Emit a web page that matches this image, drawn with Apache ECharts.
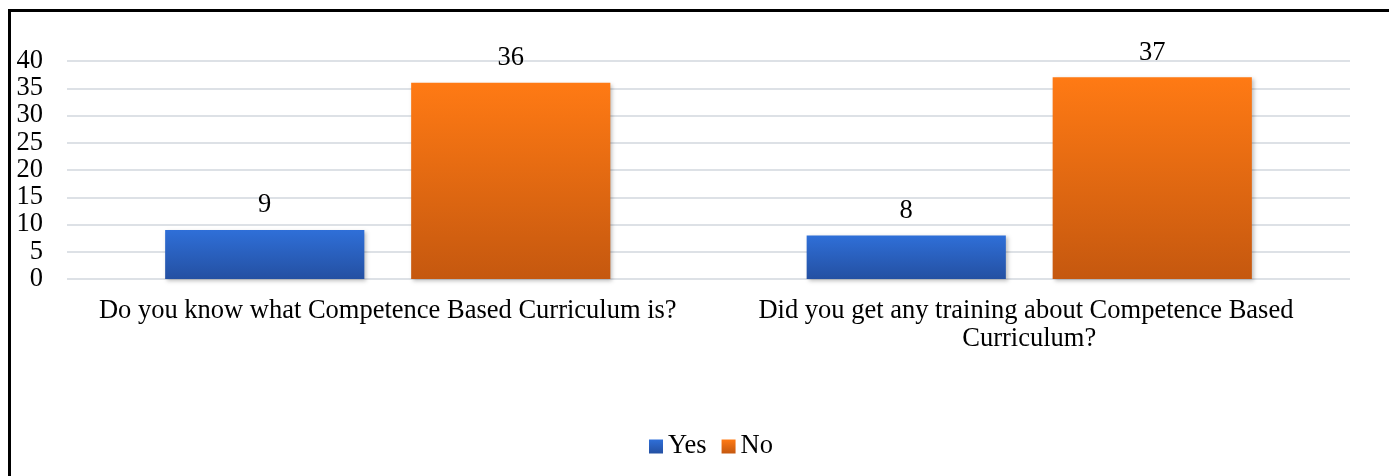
<!DOCTYPE html>
<html>
<head>
<meta charset="utf-8">
<script src="https://cdn.jsdelivr.net/npm/echarts@6/dist/echarts.min.js"></script>
<style>
  html, body { margin: 0; padding: 0; background: #fff; }
  #chart { width: 1389px; height: 476px; }
</style>
</head>
<body>
<div id="chart"></div>
<script>
const categories = [
  'Do you know what Competence Based Curriculum is?',
  'Did you get any training about Competence Based Curriculum?'
];
const yesValues = [9, 8];
const noValues = [36, 37];
const seriesNames = ['Yes', 'No'];

const font = '"Liberation Serif", "Times New Roman", serif';
const fs = 26.5;

function grad(top, bottom) {
  return new echarts.graphic.LinearGradient(0, 0, 0, 1, [
    { offset: 0, color: top },
    { offset: 1, color: bottom }
  ]);
}

const barShadow = {
  shadowBlur: 4,
  shadowColor: 'rgba(0,0,0,0.25)',
  shadowOffsetX: 2,
  shadowOffsetY: 2
};

const chart = echarts.init(document.getElementById('chart'), null, { renderer: 'canvas' });
chart.setOption({
  animation: false,
  backgroundColor: '#fff',
  graphic: [{
    type: 'rect',
    left: 7, top: 8,
    shape: { width: 1420, height: 520 },
    style: { fill: 'none', stroke: '#000', lineWidth: 3 },
    silent: true
  }],
  grid: { left: 67, right: 39, top: 61, bottom: 197, containLabel: false },
  legend: {
    left: 644,
    top: 428,
    itemWidth: 14,
    itemHeight: 14,
    itemGap: 15,
    icon: 'rect',
    textStyle: { fontFamily: font, fontSize: fs, color: '#000' },
    data: seriesNames
  },
  xAxis: {
    type: 'category',
    data: categories,
    axisLine: { show: false },
    axisTick: { show: false },
    axisLabel: {
      fontFamily: font, fontSize: fs, color: '#000', margin: 18,
      lineHeight: 28, width: 610, overflow: 'break', interval: 0
    }
  },
  yAxis: {
    type: 'value',
    min: 0, max: 40, interval: 5,
    axisLine: { show: false },
    axisTick: { show: false },
    splitLine: { lineStyle: { color: '#dde1e6', width: 2 } },
    axisLabel: { fontFamily: font, fontSize: fs, color: '#000', margin: 24 }
  },
  series: [
    {
      name: seriesNames[0],
      type: 'bar',
      data: yesValues,
      barGap: '23.5%',
      barCategoryGap: '30.6%',
      itemStyle: Object.assign({ color: grad('#2f6fd8', '#2450a2') }, barShadow),
      label: { show: true, position: 'top', distance: 11, fontFamily: font, fontSize: fs, color: '#000' }
    },
    {
      name: seriesNames[1],
      type: 'bar',
      data: noValues,
      itemStyle: Object.assign({ color: grad('#ff7a14', '#c5580f') }, barShadow),
      label: { show: true, position: 'top', distance: 11, fontFamily: font, fontSize: fs, color: '#000' }
    }
  ]
});
</script>
</body>
</html>
